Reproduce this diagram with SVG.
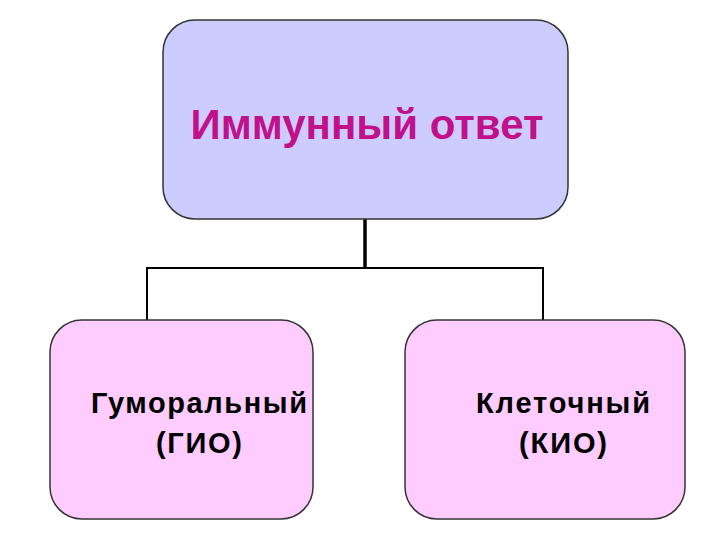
<svg xmlns="http://www.w3.org/2000/svg" width="720" height="540" viewBox="0 0 720 540">
<style>
.box{stroke:#333;stroke-width:1.5}
.t{font-family:"Liberation Sans",Arial,sans-serif;font-size:29px;font-weight:bold;fill:#000;text-anchor:middle}
.h{font-family:"Liberation Sans",Arial,sans-serif;font-size:42px;font-weight:bold;fill:#c0108a;text-anchor:middle}
.c{stroke:#000;fill:none}
</style>
<rect width="720" height="540" fill="#fff"/>
<g id="connectors">
<line class="c" x1="365" y1="219" x2="365" y2="269" stroke-width="3.5"/>
<polyline class="c" points="147,320 147,268 543,268 543,320" stroke-width="2"/>
</g>
<g id="root">
<rect class="box" x="163" y="20" width="405" height="199" rx="32" fill="#ccccff"/>
<text class="h" x="367" y="139">Иммунный ответ</text>
</g>
<g id="humoral">
<rect class="box" x="50" y="320" width="263" height="199" rx="32" fill="#ffccff"/>
<text class="t" x="199" y="413" textLength="216">Гуморальный</text>
<text class="t" x="199" y="453" textLength="86">(ГИО)</text>
</g>
<g id="cellular">
<rect class="box" x="405" y="320" width="280" height="199" rx="32" fill="#ffccff"/>
<text class="t" x="563" y="413" textLength="174">Клеточный</text>
<text class="t" x="563" y="453" textLength="88">(КИО)</text>
</g>
</svg>
